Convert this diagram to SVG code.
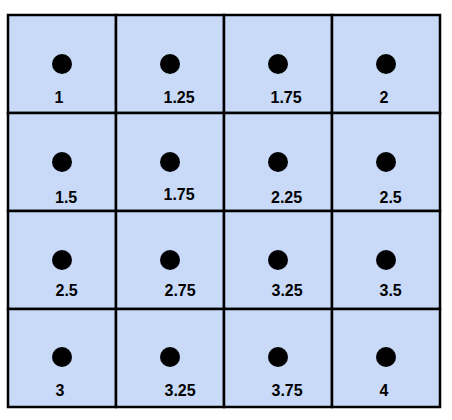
<svg xmlns="http://www.w3.org/2000/svg" width="452" height="420" viewBox="0 0 452 420">
<style>
.cell{fill:#c9daf8;stroke:#000;stroke-width:2.5}
.dot{fill:#000}
.lbl{font-family:"Liberation Sans",Arial,sans-serif;font-size:16px;font-weight:bold;fill:#000}
</style>
<rect width="452" height="420" fill="#fff"/>
<g id="c11"><rect class="cell" x="8" y="15" width="108" height="98"/><circle class="dot" cx="62" cy="64" r="10"/><text class="lbl" x="54.5" y="103">1</text></g>
<g id="c12"><rect class="cell" x="116" y="15" width="108" height="98"/><circle class="dot" cx="170" cy="64" r="10"/><text class="lbl" x="163.5" y="103">1.25</text></g>
<g id="c13"><rect class="cell" x="224" y="15" width="108" height="98"/><circle class="dot" cx="278" cy="64" r="10"/><text class="lbl" x="270.5" y="103">1.75</text></g>
<g id="c14"><rect class="cell" x="332" y="15" width="108" height="98"/><circle class="dot" cx="386" cy="64" r="10"/><text class="lbl" x="379.5" y="103">2</text></g>
<g id="c21"><rect class="cell" x="8" y="113" width="108" height="98"/><circle class="dot" cx="62" cy="162" r="10"/><text class="lbl" x="55" y="202.5">1.5</text></g>
<g id="c22"><rect class="cell" x="116" y="113" width="108" height="98"/><circle class="dot" cx="170" cy="162" r="10"/><text class="lbl" x="163.5" y="200">1.75</text></g>
<g id="c23"><rect class="cell" x="224" y="113" width="108" height="98"/><circle class="dot" cx="278" cy="162" r="10"/><text class="lbl" x="271" y="202.5">2.25</text></g>
<g id="c24"><rect class="cell" x="332" y="113" width="108" height="98"/><circle class="dot" cx="386" cy="162" r="10"/><text class="lbl" x="379.5" y="202.5">2.5</text></g>
<g id="c31"><rect class="cell" x="8" y="211" width="108" height="98"/><circle class="dot" cx="62" cy="260" r="10"/><text class="lbl" x="55.5" y="296">2.5</text></g>
<g id="c32"><rect class="cell" x="116" y="211" width="108" height="98"/><circle class="dot" cx="170" cy="260" r="10"/><text class="lbl" x="164.5" y="296">2.75</text></g>
<g id="c33"><rect class="cell" x="224" y="211" width="108" height="98"/><circle class="dot" cx="278" cy="260" r="10"/><text class="lbl" x="271.5" y="296">3.25</text></g>
<g id="c34"><rect class="cell" x="332" y="211" width="108" height="98"/><circle class="dot" cx="386" cy="260" r="10"/><text class="lbl" x="379.5" y="296">3.5</text></g>
<g id="c41"><rect class="cell" x="8" y="309" width="108" height="98"/><circle class="dot" cx="62" cy="357" r="10"/><text class="lbl" x="55.5" y="395.5">3</text></g>
<g id="c42"><rect class="cell" x="116" y="309" width="108" height="98"/><circle class="dot" cx="170" cy="357" r="10"/><text class="lbl" x="164.5" y="395.5">3.25</text></g>
<g id="c43"><rect class="cell" x="224" y="309" width="108" height="98"/><circle class="dot" cx="278" cy="357" r="10"/><text class="lbl" x="271.5" y="395.5">3.75</text></g>
<g id="c44"><rect class="cell" x="332" y="309" width="108" height="98"/><circle class="dot" cx="386" cy="357" r="10"/><text class="lbl" x="379.5" y="395.5">4</text></g>
<g id="connectors"></g>
</svg>
